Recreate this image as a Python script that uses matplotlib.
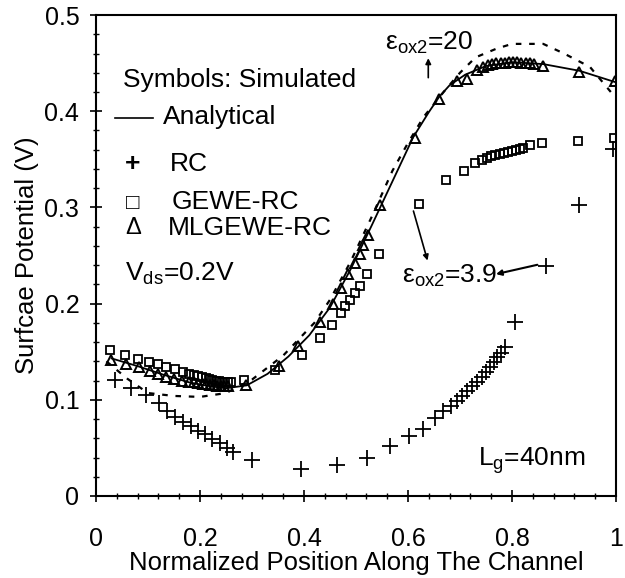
import numpy as np
import matplotlib
matplotlib.use('Agg')
import matplotlib.pyplot as plt
from matplotlib.lines import Line2D

plt.rcParams['font.family'] = ['Liberation Sans', 'DejaVu Sans']
plt.rcParams['mathtext.fontset'] = 'custom'
plt.rcParams['mathtext.rm'] = 'Liberation Sans'
plt.rcParams['mathtext.default'] = 'regular'

FS_TICK = 18
FS_LAB = 18.5
FS_TXT = 19

# analytical (solid)
ana_x = [0.03, 0.08, 0.13, 0.18, 0.22, 0.25, 0.29, 0.33, 0.37, 0.41, 0.45, 0.49,
         0.53, 0.57, 0.61, 0.64, 0.66, 0.68, 0.71, 0.75, 0.80, 0.86, 0.93, 1.0]
ana_y = [0.143, 0.135, 0.126, 0.118, 0.114, 0.112, 0.115, 0.127, 0.145, 0.167, 0.196, 0.236,
         0.281, 0.327, 0.373, 0.399, 0.415, 0.427, 0.438, 0.447, 0.451, 0.449, 0.442, 0.430]

# second analytical curve (dashed)
dash_x = [0.02, 0.06, 0.10, 0.15, 0.20, 0.25, 0.30, 0.36, 0.42, 0.45, 0.49, 0.53, 0.57,
          0.60, 0.63, 0.67, 0.70, 0.73, 0.77, 0.80, 0.86, 0.90, 0.95, 0.99]
dash_y = [0.140, 0.122, 0.107, 0.104, 0.103, 0.107, 0.121, 0.146, 0.180, 0.204, 0.244, 0.290,
          0.338, 0.367, 0.394, 0.421, 0.440, 0.456, 0.465, 0.470, 0.470, 0.460, 0.446, 0.420]

# RC (plus)
rc_x = [0.037, 0.067, 0.096, 0.122, 0.137, 0.152, 0.167, 0.182, 0.196, 0.210, 0.224, 0.238,
        0.252, 0.264, 0.300, 0.394, 0.463, 0.521, 0.565, 0.601, 0.629, 0.652, 0.668, 0.682,
        0.694, 0.704, 0.714, 0.724, 0.733, 0.742, 0.750, 0.758, 0.765, 0.772, 0.779, 0.786,
        0.806, 0.865, 0.928, 0.995]
rc_y = [0.121, 0.112, 0.105, 0.097, 0.088, 0.082, 0.077, 0.073, 0.068, 0.064, 0.059, 0.055,
        0.050, 0.046, 0.037, 0.028, 0.032, 0.039, 0.052, 0.062, 0.070, 0.081, 0.088, 0.094,
        0.099, 0.104, 0.109, 0.114, 0.119, 0.124, 0.129, 0.134, 0.139, 0.144, 0.149, 0.155,
        0.181, 0.239, 0.302, 0.361]

# GEWE-RC (square)
gewe_x = [0.027, 0.056, 0.080, 0.101, 0.119, 0.135, 0.151, 0.167, 0.178, 0.188, 0.196, 0.204,
          0.211, 0.218, 0.224, 0.230, 0.236, 0.242, 0.248, 0.254, 0.259, 0.285, 0.344, 0.396,
          0.430, 0.453, 0.471, 0.479, 0.488, 0.498, 0.508, 0.521, 0.545, 0.622, 0.674, 0.708,
          0.729, 0.742, 0.751, 0.760, 0.768, 0.776, 0.784, 0.792, 0.800, 0.808, 0.816, 0.822,
          0.835, 0.858, 0.926, 0.997]
gewe_y = [0.152, 0.147, 0.142, 0.139, 0.137, 0.134, 0.132, 0.129, 0.127, 0.126, 0.125, 0.124,
          0.123, 0.122, 0.121, 0.120, 0.120, 0.119, 0.119, 0.118, 0.118, 0.121, 0.131, 0.147,
          0.164, 0.178, 0.190, 0.197, 0.204, 0.211, 0.218, 0.231, 0.252, 0.304, 0.328, 0.338,
          0.346, 0.349, 0.351, 0.353, 0.355, 0.356, 0.357, 0.358, 0.359, 0.360, 0.361, 0.362,
          0.365, 0.367, 0.369, 0.372]

# MLGEWE-RC (triangle)
ml_x = [0.029, 0.058, 0.082, 0.103, 0.119, 0.135, 0.150, 0.165, 0.178, 0.188, 0.197, 0.205,
        0.212, 0.219, 0.226, 0.233, 0.240, 0.247, 0.254, 0.288, 0.351, 0.388, 0.431, 0.456,
        0.472, 0.485, 0.498, 0.508, 0.514, 0.524, 0.547, 0.614, 0.660, 0.694, 0.714, 0.732,
        0.745, 0.754, 0.762, 0.770, 0.778, 0.786, 0.794, 0.802, 0.810, 0.818, 0.826, 0.834,
        0.842, 0.860, 0.929, 0.998]
ml_y = [0.141, 0.137, 0.134, 0.130, 0.127, 0.124, 0.122, 0.120, 0.119, 0.118, 0.117, 0.116,
        0.116, 0.115, 0.115, 0.114, 0.114, 0.114, 0.114, 0.115, 0.135, 0.156, 0.181, 0.200,
        0.216, 0.231, 0.242, 0.252, 0.261, 0.271, 0.302, 0.372, 0.413, 0.431, 0.433, 0.443,
        0.446, 0.448, 0.449, 0.450, 0.450, 0.450, 0.451, 0.451, 0.451, 0.450, 0.450, 0.450,
        0.449, 0.447, 0.441, 0.431]

fig = plt.figure(figsize=(6.25, 5.78), dpi=100)
ax = fig.add_axes([0.1536, 0.1419, 0.832, 0.8321])

ax.plot(ana_x, ana_y, color='black', lw=1.3)
ax.plot(dash_x, dash_y, color='black', lw=1.6, linestyle=(0, (2.5, 3.5)))
ax.plot(rc_x, rc_y, linestyle='none', marker='+', ms=11, mew=1.3, color='black')
ax.plot(gewe_x, gewe_y, linestyle='none', marker='s', ms=5.5, mew=1.3,
        mfc='none', mec='black')
ax.plot(ml_x, ml_y, linestyle='none', marker='^', ms=7, mew=1.4,
        mfc='none', mec='black')

ax.set_xlim(0, 1)
ax.set_ylim(0, 0.5)
ax.set_xticks([0, 0.2, 0.4, 0.6, 0.8, 1.0])
ax.set_xticklabels(['0', '0.2', '0.4', '0.6', '0.8', '1'])
ax.set_yticks([0, 0.1, 0.2, 0.3, 0.4, 0.5])
ax.set_yticklabels(['0', '0.1', '0.2', '0.3', '0.4', '0.5'])
ax.set_xticks(np.arange(0, 1.001, 0.04), minor=True)
ax.set_yticks(np.arange(0, 0.501, 0.02), minor=True)
ax.tick_params(which='major', direction='inout', length=8, width=1.2,
               labelsize=FS_TICK, pad=8)
ax.tick_params(which='minor', direction='inout', length=5, width=1.0)
ax.tick_params(axis='x', which='major', pad=18)
for s in ax.spines.values():
    s.set_linewidth(1.5)

ax.set_xlabel('Normalized Position Along The Channel', fontsize=FS_LAB, labelpad=0)
ax.set_ylabel('Surfcae Potential (V)', fontsize=FS_LAB, labelpad=4)

# legend-like text block
ax.text(0.052, 0.432, 'Symbols: Simulated', fontsize=FS_TXT, va='center')
ax.add_line(Line2D([0.036, 0.109], [0.393, 0.393], color='black', lw=1.2,
                   transform=ax.transData))
ax.text(0.128, 0.394, 'Analytical', fontsize=FS_TXT, va='center')
ax.text(0.070, 0.345, '+', fontsize=FS_TXT, va='center', ha='center', fontweight='bold')
ax.text(0.142, 0.345, 'RC', fontsize=FS_TXT, va='center')
ax.text(0.071, 0.304, '□', fontsize=FS_TXT - 3, va='center', ha='center')
ax.text(0.146, 0.306, 'GEWE-RC', fontsize=FS_TXT, va='center')
ax.text(0.071, 0.279, 'Δ', fontsize=FS_TXT - 2, va='center', ha='center')
ax.text(0.139, 0.279, 'MLGEWE-RC', fontsize=FS_TXT, va='center')
ax.text(0.055, 0.231, r'V$_{ds}$=0.2V', fontsize=FS_TXT, va='center')

ax.text(0.556, 0.471, r'ε$_{ox2}$=20', fontsize=FS_TXT, va='center')
ax.annotate('', xy=(0.639, 0.458), xytext=(0.639, 0.432),
            arrowprops=dict(arrowstyle='-|>', color='black', lw=1.2,
                            mutation_scale=8))
ax.text(0.588, 0.229, r'ε$_{ox2}$=3.9', fontsize=FS_TXT, va='center')
ax.annotate('', xy=(0.639, 0.242), xytext=(0.609, 0.299),
            arrowprops=dict(arrowstyle='-|>', color='black', lw=1.2,
                            mutation_scale=8))
ax.annotate('', xy=(0.764, 0.230), xytext=(0.854, 0.241),
            arrowprops=dict(arrowstyle='-|>', color='black', lw=1.5,
                            mutation_scale=8))
ax.text(0.735, 0.037, r'L$_g$=40nm', fontsize=FS_TXT, va='center')

fig.savefig('out.png', dpi=100)
